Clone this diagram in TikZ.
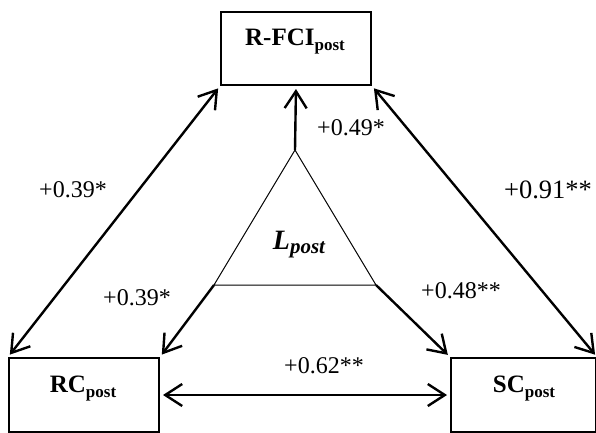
\documentclass[tikz,border=0pt]{standalone}
\usepackage{fontspec}
\setmainfont{Liberation Serif}
\usetikzlibrary{arrows.meta}
\begin{document}
\begin{tikzpicture}[x=1pt,y=-1pt,
  boxnode/.style={draw,line width=2pt,inner sep=0pt,anchor=north west},
  link/.style={line width=2.4pt,{Straight Barb[length=17pt,width=22pt]}-{Straight Barb[length=17pt,width=22pt]},shorten <=3pt,shorten >=3pt},
  onelink/.style={line width=2.4pt,-{Straight Barb[length=17pt,width=22pt]},shorten >=3pt},
  coef/.style={font=\fontsize{24}{28}\selectfont,inner sep=0pt},
  boxlabel/.style={font=\fontsize{25}{30}\selectfont\bfseries}]
\useasboundingbox (0,0) rectangle (596,432);
% boxes
\node[boxnode,minimum width=150pt,minimum height=73pt] (rfci) at (220,11) {};
\node[boxnode,minimum width=150pt,minimum height=74pt] (rc) at (8,357) {};
\node[boxnode,minimum width=145pt,minimum height=74pt] (sc) at (450,357) {};
\node[boxlabel] at (295,42) {R-FCI\raisebox{-5pt}{\fontsize{17}{20}\selectfont post}};
\node[boxlabel] at (83,389) {RC\raisebox{-5pt}{\fontsize{17}{20}\selectfont post}};
\node[boxlabel] at (524,389) {SC\raisebox{-5pt}{\fontsize{17}{20}\selectfont post}};
% triangle
\coordinate (apex) at (295,150);
\coordinate (tl) at (214,285);
\coordinate (tr) at (376,285);
\draw[line width=1pt] (apex) -- (tl) -- (tr) -- cycle;
\node[font=\fontsize{28}{32}\selectfont\bfseries\itshape] (lpost) at (299,245) {L\raisebox{-4pt}{\fontsize{21}{24}\selectfont post}};
% connectors
\draw[onelink] (apex) -- (rfci.south);
\draw[link] (rfci.south west) -- (rc.north west);
\draw[link] (rfci.south east) -- (sc.north east);
\draw[onelink] (tl) -- (rc.north east);
\draw[onelink] (tr) -- (sc.north west);
\draw[link] (rc.east) -- (sc.west);
% coefficients
\node[coef] (c1) at (351,128) {+0.49*};
\node[coef] (c2) at (73,190) {+0.39*};
\node[coef,font=\fontsize{26.5}{30}\selectfont] (c3) at (548,190) {+0.91**};
\node[coef] (c4) at (137,298) {+0.39*};
\node[coef] (c5) at (461,291) {+0.48**};
\node[coef] (c6) at (324,366) {+0.62**};
\end{tikzpicture}
\end{document}
